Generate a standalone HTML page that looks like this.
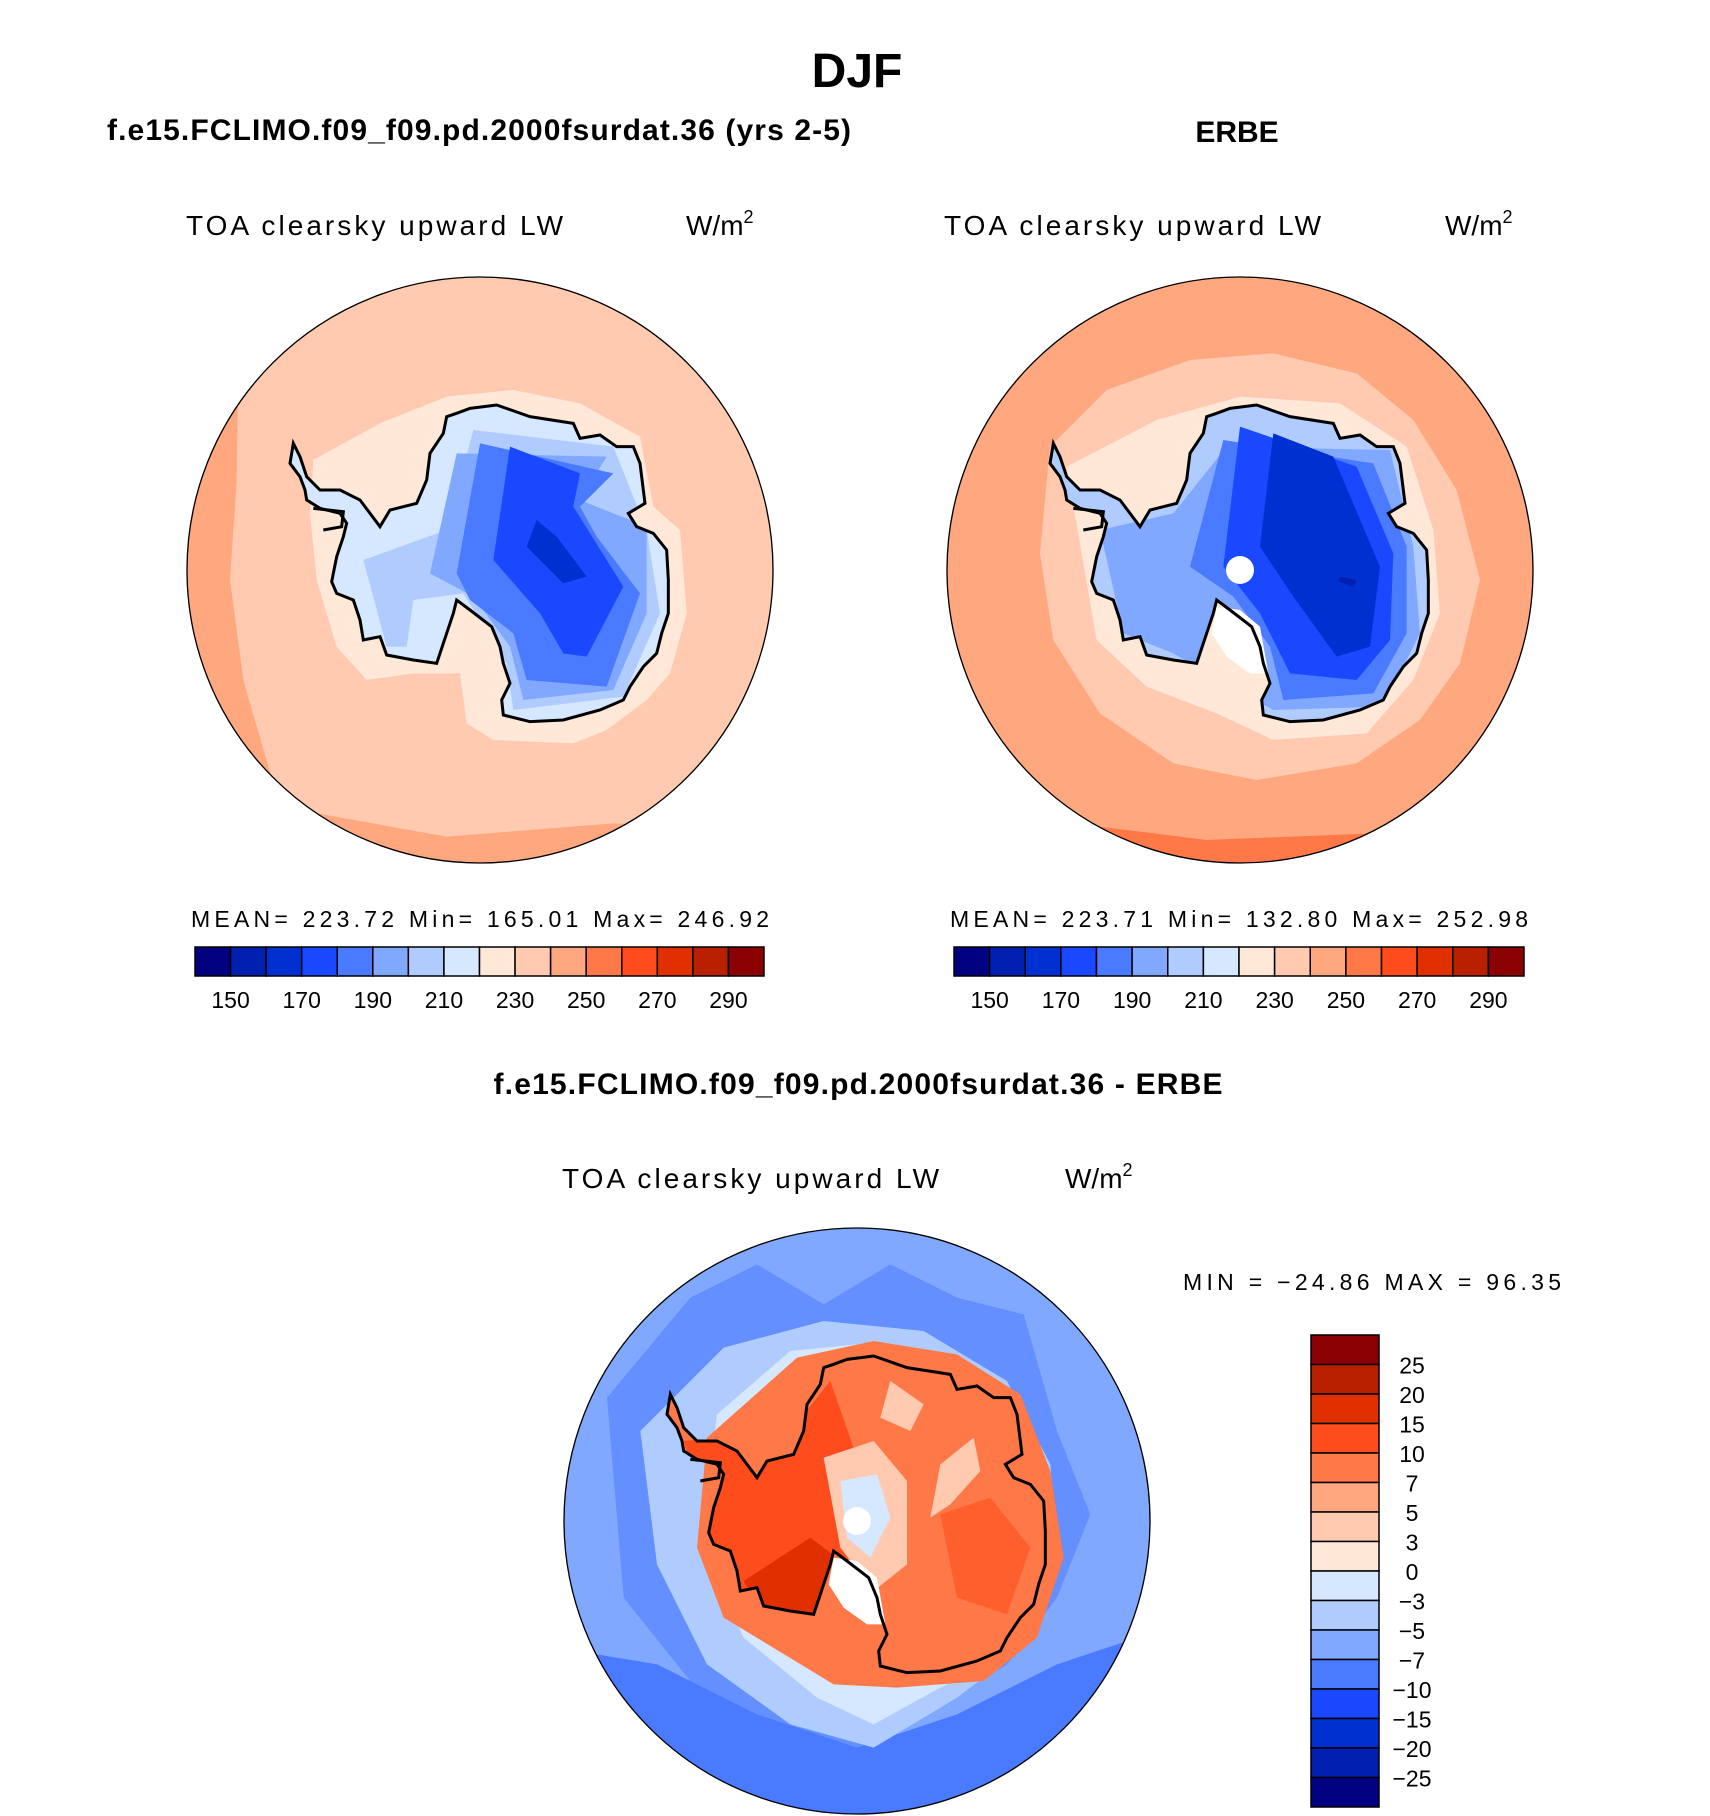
<!DOCTYPE html>
<html><head><meta charset="utf-8"><style>
html,body{margin:0;padding:0;background:#fff;}
svg{display:block;}
text{font-family:"Liberation Sans",sans-serif;fill:#000;}
</style></head><body>
<svg id="root" width="1710" height="1816" viewBox="0 0 1710 1816" xmlns="http://www.w3.org/2000/svg">
<defs>
<path id="coast" d="M800,110 L830,100 L870,85 L950,75 L1050,110 L1180,130 L1200,175 L1260,165 L1310,200 L1360,200 L1380,250 L1395,370 L1345,400 L1370,440 L1420,460 L1460,510 L1465,600 L1465,700 L1445,760 L1430,820 L1390,860 L1350,920 L1330,960 L1260,990 L1150,1020 L1050,1025 L970,1005 L965,960 L990,910 L970,850 L960,800 L935,740 L870,690 L830,660 L820,700 L800,760 L770,850 L700,840 L620,825 L600,770 L550,780 L540,720 L520,660 L470,640 L455,605 L470,530 L490,470 L500,430 L480,400 L420,385 L380,360 L375,330 L360,290 L330,250 L340,190 L360,230 L380,290 L420,330 L480,330 L540,360 L600,440 L630,390 L710,370 L740,300 L750,220 L790,160 Z"/>
<clipPath id="cc"><circle cx="900" cy="570" r="879"/></clipPath>
<clipPath id="cl"><use href="#coast"/></clipPath>
</defs>
<text x="857" y="87" font-size="48" font-weight="bold" text-anchor="middle">DJF</text>
<text x="107" y="140" font-size="30" font-weight="bold" textLength="744">f.e15.FCLIMO.f09_f09.pd.2000fsurdat.36 (yrs 2-5)</text>
<text x="1237" y="142" font-size="30" font-weight="bold" text-anchor="middle">ERBE</text>
<text x="858" y="1094" font-size="30" font-weight="bold" text-anchor="middle" textLength="729">f.e15.FCLIMO.f09_f09.pd.2000fsurdat.36 - ERBE</text>

<g id="hdrs"></g>

<!-- left map -->
<g transform="translate(480,570) scale(0.33333) translate(-900,-570)">
<g clip-path="url(#cc)">
<rect x="0" y="-400" width="1800" height="2000" fill="#ffa880"/>
<path d="M180,-400 L1800,-400 L1800,1200 L1750,1350 L1300,1330 L800,1370 L300,1280 L190,900 L150,600 L170,300 Z" fill="#ffcab0"/>
<path d="M400,240 L600,130 L800,50 L1000,30 L1200,70 L1380,170 L1420,380 L1500,450 L1520,700 L1470,880 L1400,960 L1280,1050 L1180,1090 L940,1080 L860,1030 L840,880 L700,880 L560,900 L470,800 L410,600 L390,400 Z" fill="#ffe8d8"/>
<use href="#coast" fill="#d5e8ff"/>
<g clip-path="url(#cl)">
<path d="M550,540 L800,450 L880,150 L1300,200 L1400,450 L1440,700 L1330,950 L1000,990 L980,850 L850,640 L700,660 L680,800 L620,800 Z" fill="#b0ccff"/>
<path d="M750,580 L830,220 L1280,230 L1200,360 L1400,440 L1400,700 L1300,930 L1030,960 L990,800 L880,650 Z" fill="#80a8ff"/>
<path d="M830,580 L900,190 L1300,280 L1200,380 L1250,470 L1380,640 L1280,920 L1040,900 L1000,760 L870,660 Z" fill="#4a7aff"/>
<path d="M940,540 L990,200 L1200,280 L1180,380 L1330,620 L1220,830 L1150,820 L1080,700 Z" fill="#1a48ff"/>
<path d="M1040,500 L1070,420 L1130,470 L1220,590 L1150,610 Z" fill="#0030d0"/>
</g>
<use href="#coast" fill="none" stroke="#000" stroke-width="9"/>
<path d="M400,385 L490,395 L485,440 L430,450" fill="none" stroke="#000" stroke-width="9"/>
</g>
<circle cx="900" cy="570" r="879" fill="none" stroke="#000" stroke-width="4"/>
</g>

<!-- right map -->
<g transform="translate(1240,570) scale(0.33333) translate(-900,-570)">
<g clip-path="url(#cc)">
<rect x="0" y="-400" width="1800" height="2000" fill="#ff7848"/>
<path d="M0,-400 L1800,-400 L1800,1150 L1600,1300 L1300,1360 L800,1380 L400,1330 L120,1100 L0,900 Z" fill="#ffa880"/>
<path d="M330,200 L500,30 L750,-60 L1000,-80 L1250,-20 L1420,120 L1550,330 L1620,600 L1560,850 L1440,1020 L1250,1150 L950,1200 L700,1150 L480,1000 L340,780 L300,520 Z" fill="#ffcab0"/>
<path d="M380,260 L650,120 L900,50 L1200,70 L1400,200 L1480,450 L1500,700 L1420,900 L1280,1060 L1000,1080 L830,1000 L620,920 L470,780 L430,550 Z" fill="#ffe8d8"/>
<use href="#coast" fill="#b0ccff"/>
<g clip-path="url(#cl)">
<path d="M480,450 L700,400 L860,200 L1350,210 L1420,500 L1440,760 L1330,980 L1000,990 L700,820 L550,760 Z" fill="#80a8ff"/>
<path d="M750,560 L850,180 L1300,250 L1400,500 L1400,760 L1300,940 L1030,960 L990,800 L880,650 Z" fill="#4a7aff"/>
<path d="M850,560 L900,140 L1250,260 L1360,520 L1350,780 L1250,900 L1050,880 L960,700 Z" fill="#1a48ff"/>
<path d="M960,500 L1000,160 L1180,230 L1320,560 L1290,800 L1190,830 L1060,650 Z" fill="#0030d0"/>
<path d="M1200,590 L1250,600 L1240,620 L1195,605 Z" fill="#0020b0"/>
</g>
<path d="M830,680 L900,690 L960,740 L985,880 L930,880 L860,830 L815,760 Z" fill="#fff"/>
<circle cx="900" cy="570" r="42" fill="#fff"/>
<use href="#coast" fill="none" stroke="#000" stroke-width="9"/>
<path d="M400,385 L490,395 L485,440 L430,450" fill="none" stroke="#000" stroke-width="9"/>
</g>
<circle cx="900" cy="570" r="879" fill="none" stroke="#000" stroke-width="4"/>
</g>

<!-- diff map -->
<g transform="translate(857,1521) scale(0.33333) translate(-900,-570)">
<g clip-path="url(#cc)">
<rect x="0" y="-400" width="1800" height="2000" fill="#4a7aff"/>
<path d="M0,-400 L1800,-400 L1800,900 L1500,1000 L1200,1150 L900,1250 L600,1150 L300,1000 L0,950 Z" fill="#80a8ff"/>
<path d="M150,200 L400,-100 L600,-200 L800,-80 L1000,-200 L1200,-100 L1400,-50 L1500,300 L1600,550 L1500,800 L1350,1000 L1100,1150 L900,1300 L700,1200 L400,1050 L200,800 Z" fill="#4a7aff" opacity="0.55"/>
<path d="M250,300 L500,50 L800,-30 L1100,0 L1350,150 L1480,400 L1500,700 L1400,950 L1200,1100 L950,1250 L700,1180 L450,1000 L300,700 Z" fill="#b0ccff"/>
<path d="M480,250 L700,60 L900,40 L1150,80 L1380,230 L1450,480 L1470,760 L1380,960 L1150,1070 L950,1180 L780,1100 L560,920 L430,650 Z" fill="#d5e8ff"/>
<path d="M450,320 L720,80 L950,30 L1200,70 L1390,190 L1480,420 L1520,680 L1440,920 L1280,1050 L1020,1070 L830,1060 L500,860 L420,650 Z" fill="#ff7848"/>
<path d="M760,200 L800,60 L900,40 L1060,90 L1200,110 L1380,190 L1470,440 L1500,700 L1420,900 L1280,1050 L1020,1070 L830,1060 L880,860 L1000,700 L1050,500 L900,300 L820,300 Z" fill="#ff4c1c" opacity="0"/>
<g clip-path="url(#cl)">
<rect x="0" y="0" width="1800" height="1200" fill="#ff7848"/>
<path d="M380,330 L700,300 L820,150 L900,380 L1000,560 L900,650 L850,800 L700,850 L560,800 L470,640 Z" fill="#ff4c1c"/>
<path d="M560,750 L760,620 L840,680 L780,860 L620,860 Z" fill="#e03000"/>
<path d="M800,380 L950,330 L1050,450 L1050,700 L950,780 L850,650 Z" fill="#ffcab0"/>
<path d="M850,450 L960,430 L1000,560 L940,680 L870,620 Z" fill="#d5e8ff"/>
<path d="M1000,150 L1100,220 L1060,300 L970,260 Z" fill="#ffcab0"/>
<path d="M1150,400 L1250,320 L1270,420 L1180,520 L1120,560 Z" fill="#ffcab0"/>
<path d="M1150,550 L1300,500 L1420,650 L1350,850 L1200,800 Z" fill="#ff4c1c" opacity="0.6"/>
</g>
<path d="M830,680 L900,690 L960,740 L985,880 L930,880 L860,830 L815,760 Z" fill="#fff"/>
<circle cx="900" cy="570" r="42" fill="#fff"/>
<use href="#coast" fill="none" stroke="#000" stroke-width="9"/>
<path d="M400,385 L490,395 L485,440 L430,450" fill="none" stroke="#000" stroke-width="9"/>
</g>
<circle cx="900" cy="570" r="879" fill="none" stroke="#000" stroke-width="4"/>
</g>

<text x="1183" y="1290" font-size="23" textLength="378">MIN = −24.86 MAX =  96.35</text>
<g id="bars"></g>
</svg>
<script>
var colors = ["#000080","#0020b0","#0030d0","#1a48ff","#4a7aff","#80a8ff","#b0ccff","#d5e8ff","#ffe8d8","#ffcab0","#ffa880","#ff7848","#ff4c1c","#e03000","#b82000","#8b0000"];
var absLabels = ["150","170","190","210","230","250","270","290"];
var diffLabels = ["25","20","15","10","7","5","3","0","−3","−5","−7","−10","−15","−20","−25"];
var leftStats = ["223.72","165.01","246.92"];
var rightStats = ["223.71","132.80","252.98"];
var NS = "http://www.w3.org/2000/svg";
function mk(tag, attrs, parent, txt){var e=document.createElementNS(NS,tag);for(var k in attrs)e.setAttribute(k,attrs[k]);if(txt!==undefined)e.textContent=txt;parent.appendChild(e);return e;}
var hdr=document.getElementById('hdrs');
var bars=document.getElementById('bars');
function header(x0,xu,y,nm){
  var t=mk('text',{x:x0,y:y,'font-size':28,textLength:377},hdr,'TOA clearsky upward LW');
  
  
  var u=mk('text',{x:xu,y:y,'font-size':28},hdr,'W/m');
  
  
  mk('tspan',{dy:-12,'font-size':18},u,'2');
}
header(186,686,235,'left');
header(944,1445,235,'right');
header(562,1065,1188,'diff');
function hbar(x0,x1,stats,nm){
  var s=mk('text',{x:x0-4,y:927,'font-size':23,textLength:578},bars,'MEAN= '+stats[0]+'   Min= '+stats[1]+'   Max= '+stats[2]);
  
  
  var w=(x1-x0)/colors.length;
  for(var i=0;i<colors.length;i++){
    var r=mk('rect',{x:x0+i*w,y:947,width:w,height:29,fill:colors[i],stroke:'#000','stroke-width':1.5},bars);
    
    
  }
  for(var j=0;j<absLabels.length;j++){
    var l=mk('text',{x:x0+(1+2*j)*w,y:1008,'font-size':23,'text-anchor':'middle'},bars,absLabels[j]);
    
    
  }
}
hbar(195,764,leftStats,'left');
hbar(954,1524,rightStats,'right');
(function(){
  var y0=1335,y1=1807,x0=1311,x1=1379,h=(y1-y0)/colors.length;
  for(var i=0;i<colors.length;i++){
    var r=mk('rect',{x:x0,y:y0+i*h,width:x1-x0,height:h,fill:colors[colors.length-1-i],stroke:'#000','stroke-width':1.5},bars);
    
    
  }
  for(var j=0;j<diffLabels.length;j++){
    var l=mk('text',{x:1412,y:y0+(j+1)*h+9,'font-size':23,'text-anchor':'middle'},bars,diffLabels[j]);
    
    
  }
})();
</script>
</body></html>
